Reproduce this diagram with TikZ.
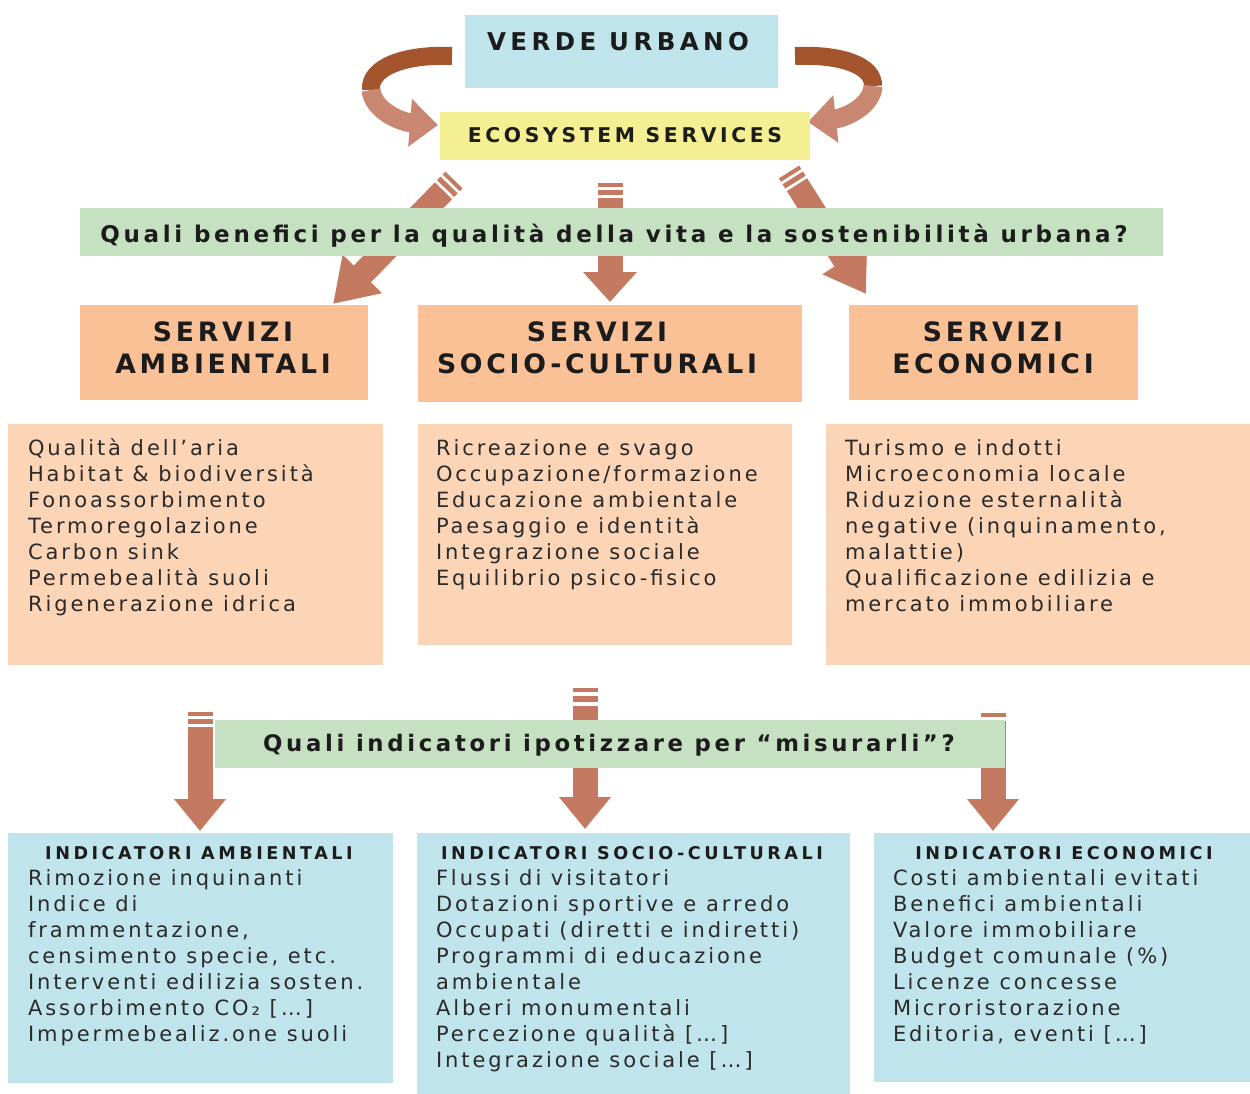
\documentclass[tikz,border=0pt]{standalone}
\usepackage{fontspec}
\setmainfont{DejaVu Sans}
\newfontfamily\fbody{DejaVu Sans}[LetterSpace=14]
\newfontfamily\ftitle{DejaVu Sans}[LetterSpace=18]
\newfontfamily\fhead{DejaVu Sans}[LetterSpace=14]
\newfontfamily\fbar{DejaVu Sans}[LetterSpace=16]
\newfontfamily\fsub{DejaVu Sans}[LetterSpace=20]
\usetikzlibrary{arrows.meta,calc}

\definecolor{cblue}{HTML}{C0E4EB}
\definecolor{cyellow}{HTML}{F4EF92}
\definecolor{cgreen}{HTML}{C6E1C1}
\definecolor{corange}{HTML}{FAC197}
\definecolor{cpeach}{HTML}{FCD4B6}
\definecolor{carrow}{HTML}{C47A60}
\definecolor{cdark}{HTML}{A4552E}
\definecolor{clight}{HTML}{C98670}
\definecolor{ctext}{HTML}{1C1C1C}
\definecolor{cbody}{HTML}{2A2A2A}

\pgfdeclarelayer{bottomlayer}
\pgfdeclarelayer{arrowlayer}
\pgfsetlayers{bottomlayer,arrowlayer,main}

\begin{document}
\begin{tikzpicture}[x=1pt,y=-1pt,
  box/.style={draw=none,inner sep=0pt,outer sep=0pt,anchor=north west},
  lbl/.style={inner sep=0pt,outer sep=0pt,text=ctext},
  bodytxt/.style={inner sep=0pt,outer sep=0pt,text=cbody,anchor=base west},
  stripes/.style={draw=carrow,line width=#1,dash pattern=on 4pt off 3pt on 5pt off 3pt},
  fatarrow/.style n args={3}{draw=carrow,line width=#1,-{Triangle[width=#2,length=#3]}},
]
\begin{pgfonlayer}{bottomlayer}
\fill[white] (0,0) rectangle (1250,1094);
\end{pgfonlayer}
\useasboundingbox (0,0) rectangle (1250,1094);

% ---------- boxes ----------
\node[box,fill=cblue,minimum width=313pt,minimum height=73pt] (verde) at (465,15) {};
\node[box,fill=cyellow,minimum width=370pt,minimum height=48pt] (eco) at (440,112) {};
\node[box,fill=cgreen,minimum width=1083pt,minimum height=48pt] (q1) at (80,208) {};

\node[box,fill=corange,minimum width=288pt,minimum height=95pt] (h1) at (80,305) {};
\node[box,fill=corange,minimum width=384pt,minimum height=97pt] (h2) at (418,305) {};
\node[box,fill=corange,minimum width=289pt,minimum height=95pt] (h3) at (849,305) {};

\node[box,fill=cpeach,minimum width=375pt,minimum height=241pt] (c1) at (8,424) {};
\node[box,fill=cpeach,minimum width=374pt,minimum height=221pt] (c2) at (418,424) {};
\node[box,fill=cpeach,minimum width=424pt,minimum height=241pt] (c3) at (826,424) {};

\node[box,fill=cgreen,minimum width=790pt,minimum height=48pt] (q2) at (215,720) {};

\node[box,fill=cblue,minimum width=385pt,minimum height=250pt] (i1) at (8,833) {};
\node[box,fill=cblue,minimum width=433pt,minimum height=261pt] (i2) at (417,833) {};
\node[box,fill=cblue,minimum width=376pt,minimum height=249pt] (i3) at (874,833) {};

% ---------- titles ----------
\node[lbl,anchor=base] (verdet) at (618,51) {\ftitle\bfseries\fontsize{24.5}{30}\selectfont VERDE URBANO};
\node[lbl,anchor=base] (ecot) at (625,143) {\ftitle\bfseries\fontsize{20.3}{24}\selectfont ECOSYSTEM SERVICES};
\node[lbl,anchor=base] (q1t) at (614,242) {\fbar\bfseries\fontsize{23}{27}\selectfont Quali benefici per la qualità della vita e la sostenibilità urbana?};
\node[lbl,anchor=base] (q2t) at (609,751) {\fbar\bfseries\fontsize{22.8}{27}\selectfont Quali indicatori ipotizzare per “misurarli”?};

\node[lbl,anchor=base] (h1t) at (223,341) {\parbox[t]{300pt}{\centering\fhead\bfseries\fontsize{26.7}{32}\selectfont SERVIZI\\AMBIENTALI}};
\node[lbl,anchor=base] (h2t) at (597,341) {\parbox[t]{380pt}{\centering\fhead\bfseries\fontsize{26.7}{32}\selectfont SERVIZI\\SOCIO-CULTURALI}};
\node[lbl,anchor=base] (h3t) at (993,341) {\parbox[t]{300pt}{\centering\fhead\bfseries\fontsize{26.7}{32}\selectfont SERVIZI\\ECONOMICI}};

% ---------- lists ----------
\node[bodytxt] (c1t) at (28,455) {\parbox[t]{360pt}{\raggedright\fbody\fontsize{21}{26}\selectfont
Qualità dell’aria\\Habitat \& biodiversità\\Fonoassorbimento\\Termoregolazione\\Carbon sink\\Permebealità suoli\\Rigenerazione idrica}};
\node[bodytxt] (c2t) at (436,455) {\parbox[t]{380pt}{\raggedright\fbody\fontsize{21}{26}\selectfont
Ricreazione e svago\\Occupazione/formazione\\Educazione ambientale\\Paesaggio e identità\\Integrazione sociale\\Equilibrio psico-fisico}};
\node[bodytxt] (c3t) at (845,455) {\parbox[t]{400pt}{\raggedright\fbody\fontsize{21}{26}\selectfont
Turismo e indotti\\Microeconomia locale\\Riduzione esternalità\\negative (inquinamento,\\malattie)\\Qualificazione edilizia e\\mercato immobiliare}};

\node[lbl,anchor=base] (i1h) at (199,859) {\fsub\bfseries\fontsize{17.6}{20}\selectfont INDICATORI AMBIENTALI};
\node[lbl,anchor=base] (i2h) at (632,859) {\fsub\bfseries\fontsize{17.6}{20}\selectfont INDICATORI SOCIO-CULTURALI};
\node[lbl,anchor=base] (i3h) at (1064,859) {\fsub\bfseries\fontsize{17.6}{20}\selectfont INDICATORI ECONOMICI};

\node[bodytxt] (i1t) at (28,885) {\parbox[t]{380pt}{\raggedright\fbody\fontsize{21}{26}\selectfont
Rimozione inquinanti\\Indice di\\frammentazione,\\censimento specie, etc.\\Interventi edilizia sosten.\\Assorbimento CO₂ […]\\Impermebealiz.one suoli}};
\node[bodytxt] (i2t) at (436,885) {\parbox[t]{420pt}{\raggedright\fbody\fontsize{21}{26}\selectfont
Flussi di visitatori\\Dotazioni sportive e arredo\\Occupati (diretti e indiretti)\\Programmi di educazione\\ambientale\\Alberi monumentali\\Percezione qualità […]\\Integrazione sociale […]}};
\node[bodytxt] (i3t) at (893,885) {\parbox[t]{360pt}{\raggedright\fbody\fontsize{21}{26}\selectfont
Costi ambientali evitati\\Benefici ambientali\\Valore immobiliare\\Budget comunale (\%)\\Licenze concesse\\Microristorazione\\Editoria, eventi […]}};

% ---------- arrows (behind boxes) ----------
\begin{pgfonlayer}{arrowlayer}
% curved arrows verde -> eco
\coordinate (lt) at (452,56);
\coordinate (lm) at (371,90);
\coordinate (lh) at (438,125);
\draw[cdark,line width=18pt] (lt) .. controls (403,54) and (369,68) .. (lm);
\draw[clight,line width=19pt,-{Triangle[width=46pt,length=28pt]}] (lm) .. controls (373,110) and (400,122) .. (lh);
\coordinate (rt) at (795,56);
\coordinate (rm) at (873,86);
\coordinate (rh) at (808,122);
\draw[cdark,line width=18pt] (rt) .. controls (842,54) and (874,66) .. (rm);
\draw[clight,line width=19pt,-{Triangle[width=46pt,length=28pt]}] (rm) .. controls (872,106) and (845,118) .. (rh);

% eco -> headers
\coordinate (a1s) at (454,180);
\coordinate (a1e) at (333,304);
\coordinate (a1m) at ($(a1s)!15pt!(a1e)$);
\draw[stripes=24pt] (a1s) -- (a1m);
\draw[fatarrow={24pt}{52pt}{42pt}] (a1m) -- (a1e);

\coordinate (a2s) at (610,183);
\coordinate (a2m) at (610,198);
\coordinate (a2e) at (610,302);
\draw[stripes=25pt] (a2s) -- (a2m);
\draw[fatarrow={25pt}{52pt}{30pt}] (a2m) -- (a2e);

\coordinate (a3s) at (789,172);
\coordinate (a3e) at (866,294);
\coordinate (a3m) at ($(a3s)!15pt!(a3e)$);
\draw[stripes=24pt] (a3s) -- (a3m);
\draw[fatarrow={24pt}{50pt}{40pt}] (a3m) -- (a3e);

% contents -> indicators
\coordinate (b1s) at (200,712);
\coordinate (b1m) at (200,727);
\coordinate (b1e) at (200,831);
\draw[stripes=25pt] (b1s) -- (b1m);
\draw[fatarrow={25pt}{50pt}{32pt}] (b1m) -- (b1e);

\coordinate (b2s) at (585,688);
\coordinate (b2m) at (585,706);
\coordinate (b2e) at (585,829);
\draw[carrow,line width=25pt,dash pattern=on 4pt off 4pt on 6pt off 4pt] (b2s) -- (b2m);
\draw[fatarrow={25pt}{50pt}{32pt}] (b2m) -- (b2e);

\coordinate (b3s) at (993,713);
\coordinate (b3m) at (993,721);
\coordinate (b3e) at (993,831);
\draw[carrow,line width=25pt,dash pattern=on 4pt off 4pt] (b3s) -- (b3m);
\draw[fatarrow={25pt}{50pt}{32pt}] (b3m) -- (b3e);
\end{pgfonlayer}
\end{tikzpicture}
\end{document}
